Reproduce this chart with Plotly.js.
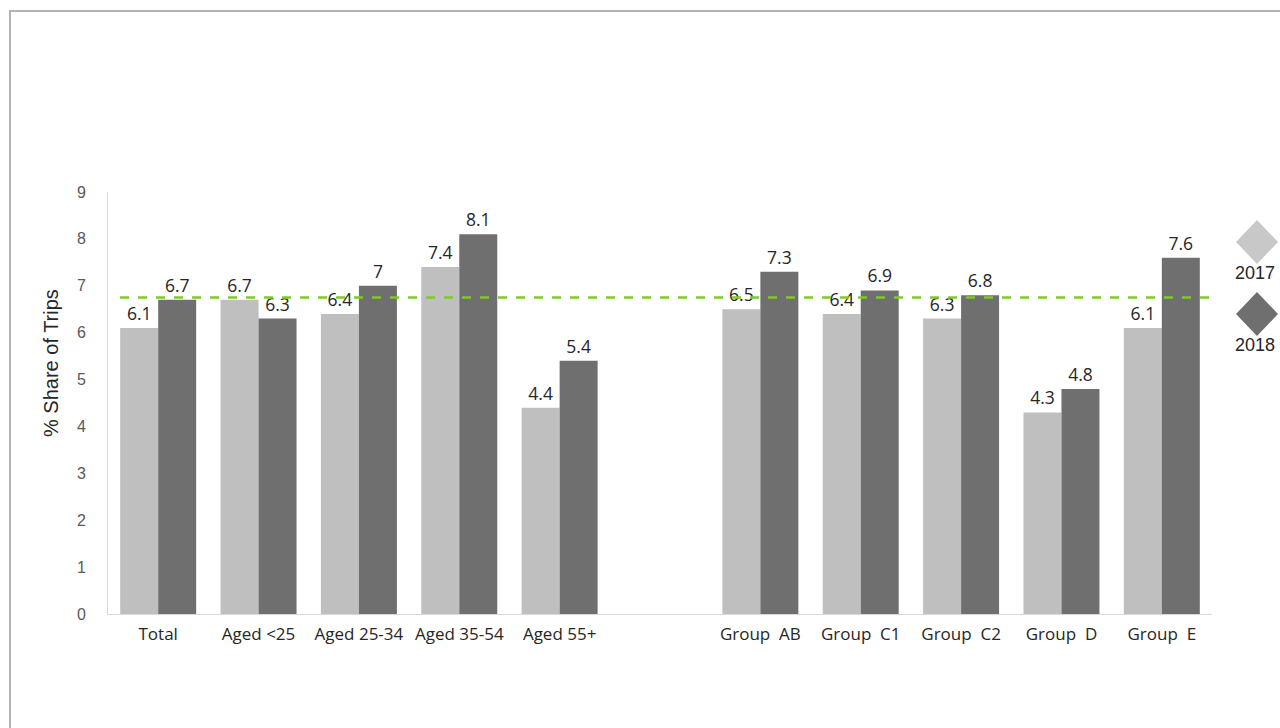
<!DOCTYPE html>
<html>
<head>
<meta charset="utf-8">
<script src="https://cdn.plot.ly/plotly-3.0.1.min.js"></script>
<style>html,body{margin:0;padding:0;background:#fff;}#chart{width:1280px;height:728px;}</style>
</head>
<body>
<div id="chart"></div>
<script>
var categories = ["Total", "Aged <25", "Aged 25-34", "Aged 35-54", "Aged 55+", " ",
  "Group\u00a0\u00a0AB", "Group\u00a0\u00a0C1", "Group\u00a0\u00a0C2", "Group\u00a0\u00a0D", "Group\u00a0\u00a0E"];
var values2017 = [6.1, 6.7, 6.4, 7.4, 4.4, null, 6.5, 6.4, 6.3, 4.3, 6.1];
var values2018 = [6.7, 6.3, 7.0, 8.1, 5.4, null, 7.3, 6.9, 6.8, 4.8, 7.6];
var seriesNames = ["2017", "2018"];
var referenceLevel = 6.75;
var yTitle = "% Share of Trips";

function labels(v){ return v.map(function(d){ return d === null ? "" : String(d); }); }

var labelFont = {family: "Open Sans, Liberation Sans, sans-serif", size: 17.5, color: "#262626"};
var traces = [
  {type: "bar", name: seriesNames[0], x: categories, y: values2017, text: labels(values2017),
   textposition: "outside", constraintext: "none", textfont: labelFont, marker: {color: "#bfbfbf"}, cliponaxis: false, hoverinfo: "x+y"},
  {type: "bar", name: seriesNames[1], x: categories, y: values2018, text: labels(values2018),
   textposition: "outside", constraintext: "none", textfont: labelFont, marker: {color: "#6f6f6f"}, cliponaxis: false, hoverinfo: "x+y"}
];

function diamond(cx, cy, color){
  return {type: "path", xref: "paper", yref: "paper", xsizemode: "pixel", ysizemode: "pixel",
    xanchor: cx, yanchor: cy, path: "M 0 22 L 21 0 L 0 -22 L -21 0 Z",
    fillcolor: color, line: {width: 0}};
}
// paper coords: plot area x 108..1212 (1104 px), y 192..614 (422 px)
function px(x){ return (x - 108) / 1104; }
function py(y){ return (614 - y) / 422; }

var layout = {
  width: 1280, height: 728,
  margin: {l: 108, r: 68, t: 192, b: 114},
  paper_bgcolor: "#fff", plot_bgcolor: "#fff",
  barmode: "group", bargap: 0.243, bargroupgap: 0,
  showlegend: false,
  xaxis: {type: "category", categoryorder: "array", categoryarray: categories,
    range: [-0.5, categories.length - 0.5], showgrid: false, zeroline: false,
    showline: true, linecolor: "#d9d9d9", linewidth: 1, ticks: "",
    tickfont: {family: "Open Sans, Liberation Sans, sans-serif", size: 17, color: "#262626"},
    ticklabelstandoff: 5, fixedrange: true},
  yaxis: {range: [0, 9], dtick: 1, showgrid: false, zeroline: false,
    showline: true, linecolor: "#d9d9d9", linewidth: 1, ticks: "",
    tickfont: {family: "Liberation Sans, Arial, sans-serif", size: 16, color: "#595959"},
    ticklabelstandoff: 18, fixedrange: true},
  shapes: [
    {type: "rect", xref: "paper", yref: "paper", x0: px(10), x1: px(1300), y0: py(750), y1: py(11),
     line: {color: "#b3b3b3", width: 2}, fillcolor: "rgba(0,0,0,0)", layer: "below"},
    {type: "line", xref: "x", yref: "y", x0: -0.38, x1: categories.length - 0.4, y0: referenceLevel, y1: referenceLevel,
     line: {color: "#7fcc1c", width: 2.5, dash: "dash"}},
    diamond(px(1257), py(242), "#c8c8c8"),
    diamond(px(1257), py(314), "#6f6f6f")
  ],
  annotations: [
    {xref: "paper", yref: "paper", x: px(51), y: py(363), xanchor: "center", yanchor: "middle", showarrow: false,
     textangle: -90, text: yTitle, font: {family: "Liberation Sans, Arial, sans-serif", size: 20, color: "#262626"}},
    {xref: "paper", yref: "paper", x: px(1233), y: py(273), xanchor: "left", yanchor: "middle", showarrow: false,
     text: seriesNames[0], font: {family: "Liberation Sans, Arial, sans-serif", size: 18, color: "#262626"}},
    {xref: "paper", yref: "paper", x: px(1233), y: py(345), xanchor: "left", yanchor: "middle", showarrow: false,
     text: seriesNames[1], font: {family: "Liberation Sans, Arial, sans-serif", size: 18, color: "#262626"}}
  ]
};

Plotly.newPlot("chart", traces, layout, {displayModeBar: false, staticPlot: true});
</script>
</body>
</html>
